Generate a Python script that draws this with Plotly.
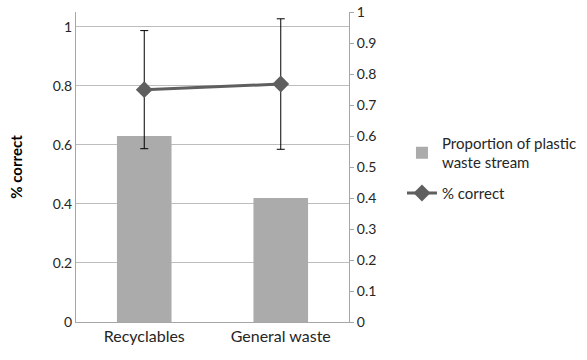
import plotly.graph_objects as go

categories = ["Recyclables", "General waste"]
proportion_plastic = [0.60, 0.40]
pct_correct = [0.787, 0.806]
pct_correct_err = [0.20, 0.221]

font_family = "Lato, Open Sans, sans-serif"

fig = go.Figure()
fig.add_trace(go.Bar(
    x=categories, y=proportion_plastic, name="Proportion of plastic<br>waste stream",
    marker=dict(color="#ABABAB", line=dict(width=0)), yaxis="y", legendgroup="a",
))
fig.add_trace(go.Scatter(
    x=categories, y=pct_correct, name="% correct", mode="lines+markers",
    line=dict(color="#5F5F5F", width=3),
    marker=dict(symbol="diamond", size=13, color="#5F5F5F"),
    error_y=dict(type="data", array=pct_correct_err, visible=True,
                 color="#000000", thickness=1, width=4),
    yaxis="y2", legendgroup="b",
))

fig.update_layout(
    width=587, height=360,
    margin=dict(l=76, r=238, t=12, b=38, autoexpand=False),
    paper_bgcolor="white", plot_bgcolor="white",
    font=dict(family=font_family, size=14, color="#262626"),
    bargap=0.6,
    showlegend=True,
    legend=dict(x=1.194, y=0.63, xanchor="left", yanchor="top",
                font=dict(size=15, color="#262626"), tracegroupgap=8,
                bgcolor="rgba(0,0,0,0)"),
    xaxis=dict(showgrid=False, showline=True, linecolor="#A6A6A6", linewidth=1,
               ticks="", tickfont=dict(size=16), automargin=False),
    yaxis=dict(side="right", range=[0, 1], dtick=0.1, showgrid=False,
               showline=True, linecolor="#A6A6A6", linewidth=1,
               ticks="outside", ticklen=4, tickcolor="#A6A6A6",
               tickfont=dict(size=14), zeroline=False, automargin=False),
    yaxis2=dict(side="left", overlaying="y", range=[0, 1.05],
                tickvals=[0, 0.2, 0.4, 0.6, 0.8, 1.0],
                ticktext=["0", "0.2", "0.4", "0.6", "0.8", "1"],
                showgrid=True, gridcolor="#BDBDBD", gridwidth=1,
                showline=True, linecolor="#A6A6A6", linewidth=1,
                ticks="", zeroline=False, tickfont=dict(size=14), automargin=False,
                title=dict(text="<b>% correct</b>", font=dict(size=15, color="#000000"),
                           standoff=26)),
)

fig.write_html("out.html", config={"displayModeBar": False},
               post_script="document.body.style.margin='0';document.body.style.padding='0';")
